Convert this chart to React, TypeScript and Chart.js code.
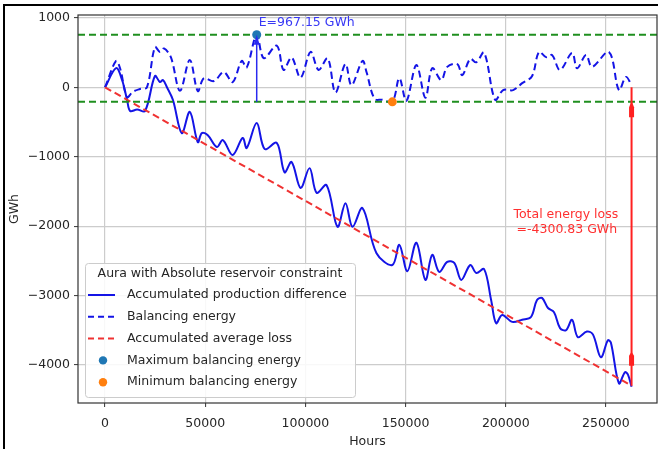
import React, { useEffect, useRef } from "react";
import { Chart, registerables } from "chart.js";

Chart.register(...registerables);

const FONT = '"DejaVu Sans", "Liberation Sans", sans-serif';
const FS = 12.5;

// Axis limits and ticks
const X_MIN = -13500;
const X_MAX = 275500;
const Y_MIN = -4549;
const Y_MAX = 1042;
const xTickValues = [0, 50000, 100000, 150000, 200000, 250000];
const xTickLabels = ["0", "50000", "100000", "150000", "200000", "250000"];
const yTickValues = [1000, 0, -1000, -2000, -3000, -4000];
const yTickLabels = ["1000", "0", "\u22121000", "\u22122000", "\u22123000", "\u22124000"];

// Accumulated production difference (GWh)
const productionHours = [0, 5500, 8500, 11000, 12500, 16000, 20000, 24900, 27400, 28900, 30900, 33900, 38300, 42300, 46300, 48300, 51300, 55800, 58800, 63700, 68700, 70700, 75700, 79700, 85700, 89600, 93100, 97600, 102100, 105600, 110600, 116000, 120000, 123500, 128500, 135500, 143400, 146900, 150900, 155400, 159900, 163300, 166800, 170800, 174300, 177800, 182300, 185300, 189200, 192700, 195200, 198200, 203200, 208200, 212600, 215600, 218100, 221100, 224100, 227100, 230100, 233100, 236000, 240500, 243500, 247500, 251000, 252500, 256500, 259500, 261000, 262800];
const productionGWh = [0, 277, 105, -183, -340, -320, -340, 163, 76, 105, 0, -183, -660, -355, -790, -660, -690, -860, -760, -975, -730, -875, -515, -890, -800, -1225, -1075, -1450, -1165, -1520, -1410, -2010, -1670, -2010, -1740, -2390, -2560, -2270, -2650, -2240, -2775, -2415, -2660, -2515, -2530, -2775, -2560, -2675, -2620, -3065, -3400, -3280, -3380, -3350, -3310, -3065, -3035, -3180, -3240, -3470, -3500, -3350, -3600, -3520, -3560, -3890, -3645, -3680, -4265, -4105, -4140, -4315];

// Balancing energy (GWh)
const balancingHours = [0, 5500, 7500, 11000, 13900, 17400, 20900, 24900, 27400, 29400, 32900, 37400, 42300, 46300, 49300, 54300, 59300, 63700, 68200, 70700, 75700, 79200, 85700, 89100, 93100, 97600, 102600, 106600, 111100, 115000, 120000, 123000, 128500, 130500, 134500, 138400, 143400, 146900, 150400, 155400, 159900, 163300, 167800, 170800, 175800, 178300, 182300, 185300, 189200, 194700, 198700, 203700, 208200, 213100, 216600, 220100, 223100, 227100, 233100, 235600, 240100, 243100, 251500, 256500, 260000, 262800];
const balancingGWh = [0, 380, 275, -140, -65, -25, 0, 580, 510, 560, 430, -50, 395, -55, 130, 90, 220, 75, 380, 285, 758, 420, 600, 250, 430, 140, 510, 250, 420, -75, 335, 30, 380, 220, -165, -180, -209, 130, -195, 320, -150, 275, 105, 295, 335, 175, 410, 360, 500, -180, -40, -40, 60, 160, 510, 435, 465, 250, 495, 275, 465, 295, 510, -40, 150, 30];

// Accumulated average loss (straight line)
const lossHours = [0, 262800];
const lossGWh = [0, -4300.83];

// Extremes
const maxBalancingHour = 75700;
const maxBalancing = 758.0;
const minBalancingHour = 143400;
const minBalancing = -209.15;
const totalLoss = -4300.83;
const endHour = 262800;

const legendTitle = "Aura with Absolute reservoir constraint";
const energyLabel = "E=967.15 GWh";
const lossLabel = ["Total energy loss", "=-4300.83 GWh"];

const zip = (xs: number[], ys: number[]) => xs.map((x, i) => ({ x, y: ys[i] }));

const BLUE = "#1414e6";
const RED = "#f03232";
const GREEN = "#1f8f1f";

const overlay = {
  id: "overlay",
  beforeDraw(chart: any) {
    const ctx = chart.ctx;
    ctx.save();
    ctx.fillStyle = "#ffffff";
    ctx.fillRect(0, 0, chart.width, chart.height);
    ctx.restore();
  },
  afterDatasetsDraw(chart: any) {
    const ctx = chart.ctx;
    const xs = chart.scales.x;
    const ys = chart.scales.y;
    ctx.save();
    // Blue arrow: min -> max balancing energy
    const ax = xs.getPixelForValue(maxBalancingHour);
    const ay0 = ys.getPixelForValue(minBalancing);
    const ay1 = ys.getPixelForValue(maxBalancing);
    ctx.strokeStyle = "#2a2af0";
    ctx.fillStyle = "#2a2af0";
    ctx.lineWidth = 1.5;
    ctx.beginPath();
    ctx.moveTo(ax, ay0);
    ctx.lineTo(ax, ay1 + 6);
    ctx.stroke();
    ctx.beginPath();
    ctx.moveTo(ax, ay1);
    ctx.lineTo(ax - 3, ay1 + 10);
    ctx.lineTo(ax + 3, ay1 + 10);
    ctx.closePath();
    ctx.fill();
    ctx.font = `${FS}px ${FONT}`;
    ctx.textAlign = "left";
    ctx.textBaseline = "middle";
    ctx.fillStyle = "#3838f5";
    ctx.fillText(energyLabel, ax + 2, ay1 - 12);

    // Red arrow: total loss
    const rx = xs.getPixelForValue(endHour);
    const ry0 = ys.getPixelForValue(0);
    const ry1 = ys.getPixelForValue(totalLoss);
    ctx.strokeStyle = "#ff2020";
    ctx.fillStyle = "#ff2020";
    ctx.lineWidth = 2;
    ctx.beginPath();
    ctx.moveTo(rx, ry0);
    ctx.lineTo(rx, ry1);
    ctx.stroke();
    ctx.beginPath();
    ctx.moveTo(rx, ry0 + 14);
    ctx.lineTo(rx + 2.5, ry0 + 20);
    ctx.lineTo(rx + 2.5, ry0 + 30);
    ctx.lineTo(rx - 2.5, ry0 + 30);
    ctx.lineTo(rx - 2.5, ry0 + 20);
    ctx.closePath();
    ctx.fill();
    ctx.beginPath();
    ctx.moveTo(rx, ry1 - 34);
    ctx.lineTo(rx + 2.5, ry1 - 30);
    ctx.lineTo(rx + 2.5, ry1 - 20);
    ctx.lineTo(rx - 2.5, ry1 - 20);
    ctx.lineTo(rx - 2.5, ry1 - 30);
    ctx.closePath();
    ctx.fill();

    ctx.fillStyle = "#ff3030";
    ctx.textAlign = "center";
    const tx = xs.getPixelForValue(230000);
    const ty = ys.getPixelForValue(-1840);
    ctx.fillText(lossLabel[0], tx, ty);
    ctx.fillText(lossLabel[1], tx + 1, ty + 15);
    ctx.restore();
  },
  afterDraw(chart: any) {
    const ctx = chart.ctx;
    const a = chart.chartArea;
    ctx.save();
    // spines
    ctx.strokeStyle = "#333333";
    ctx.lineWidth = 1.2;
    ctx.strokeRect(a.left, a.top, a.right - a.left, a.bottom - a.top);

    // legend
    const lx = 85, ly = 263, lw = 270, lh = 134;
    ctx.fillStyle = "rgba(255,255,255,0.85)";
    ctx.strokeStyle = "#cccccc";
    ctx.lineWidth = 1;
    ctx.beginPath();
    (ctx as any).roundRect(lx + 0.5, ly + 0.5, lw, lh, 3);
    ctx.fill();
    ctx.stroke();
    ctx.font = `${FS}px ${FONT}`;
    ctx.textBaseline = "middle";
    ctx.textAlign = "center";
    ctx.fillStyle = "#262626";
    ctx.fillText(legendTitle, lx + lw / 2, ly + 11);
    const items = chart.data.datasets
      .filter((d: any) => d.legendRank !== undefined)
      .sort((p: any, q: any) => p.legendRank - q.legendRank);
    items.forEach((d: any, i: number) => {
      const y = ly + 32 + i * 21.8;
      if (d.isMarker) {
        ctx.fillStyle = d.pointBackgroundColor;
        ctx.beginPath();
        ctx.arc(lx + 18, y, 4.2, 0, Math.PI * 2);
        ctx.fill();
      } else {
        ctx.strokeStyle = d.borderColor;
        ctx.lineWidth = 2;
        ctx.setLineDash(d.borderDash && d.borderDash.length ? [6, 4] : []);
        ctx.beginPath();
        ctx.moveTo(lx + 3, y);
        ctx.lineTo(lx + 30, y);
        ctx.stroke();
        ctx.setLineDash([]);
      }
      ctx.fillStyle = "#262626";
      ctx.textAlign = "left";
      ctx.fillText(d.label, lx + 42, y);
    });

    // outer frame
    ctx.strokeStyle = "#000000";
    ctx.lineWidth = 2;
    ctx.beginPath();
    ctx.moveTo(4, chart.height);
    ctx.lineTo(4, 5);
    ctx.lineTo(chart.width, 5);
    ctx.stroke();
    ctx.restore();
  },
};

export default function App() {
  const ref = useRef<HTMLCanvasElement>(null);
  useEffect(() => {
    document.body.style.margin = "0";
    const canvas = ref.current!;
    const tickFont = { family: FONT, size: FS };
    const chart = new Chart(canvas, {
      type: "line",
      data: {
        datasets: [
          {
            label: "Maximum balancing energy",
            data: [{ x: maxBalancingHour, y: maxBalancing }],
            showLine: false,
            pointRadius: 4.5,
            pointBackgroundColor: "#1f77b4",
            pointBorderWidth: 0,
            borderColor: "#1f77b4",
            order: 0,
            legendRank: 3,
            isMarker: true,
          } as any,
          {
            label: "Minimum balancing energy",
            data: [{ x: minBalancingHour, y: minBalancing }],
            showLine: false,
            pointRadius: 4.5,
            pointBackgroundColor: "#ff7f0e",
            pointBorderWidth: 0,
            borderColor: "#ff7f0e",
            order: 0,
            legendRank: 4,
            isMarker: true,
          } as any,
          {
            label: "max line",
            data: [{ x: X_MIN, y: maxBalancing }, { x: X_MAX, y: maxBalancing }],
            borderColor: GREEN,
            borderWidth: 2,
            borderDash: [7, 4],
            pointRadius: 0,
            order: 1,
          },
          {
            label: "min line",
            data: [{ x: X_MIN, y: minBalancing }, { x: X_MAX, y: minBalancing }],
            borderColor: GREEN,
            borderWidth: 2,
            borderDash: [7, 4],
            pointRadius: 0,
            order: 1,
          },
          {
            label: "Accumulated average loss",
            data: zip(lossHours, lossGWh),
            borderColor: RED,
            borderWidth: 2,
            borderDash: [7, 4],
            pointRadius: 0,
            order: 2,
            legendRank: 2,
          } as any,
          {
            label: "Balancing energy",
            data: zip(balancingHours, balancingGWh),
            borderColor: BLUE,
            borderWidth: 2,
            borderDash: [7, 4],
            pointRadius: 0,
            tension: 0.35,
            order: 3,
            legendRank: 1,
          } as any,
          {
            label: "Accumulated production difference",
            data: zip(productionHours, productionGWh),
            borderColor: BLUE,
            borderWidth: 2,
            pointRadius: 0,
            tension: 0.35,
            order: 4,
            legendRank: 0,
          } as any,
        ],
      },
      options: {
        animation: false,
        responsive: false,
        devicePixelRatio: 1,
        events: [],
        layout: { autoPadding: false, padding: { top: 15, right: 1, left: 0, bottom: 0 } },
        plugins: { legend: { display: false }, tooltip: { enabled: false } },
        scales: {
          x: {
            type: "linear",
            min: X_MIN,
            max: X_MAX,
            afterFit: (s: any) => {
              s.height = 46;
              s.paddingLeft = 0;
              s.paddingRight = 0;
            },
            afterBuildTicks: (s: any) => {
              s.ticks = xTickValues.map((v) => ({ value: v }));
            },
            ticks: {
              callback: (_v: any, i: number) => xTickLabels[i],
              font: tickFont,
              color: "#262626",
              padding: 9,
              maxRotation: 0,
              autoSkip: false,
            },
            grid: { color: "#cccccc", lineWidth: 1.2, tickLength: 4, tickColor: "#333333", tickWidth: 1 },
            border: { display: false },
            title: { display: true, text: "Hours", font: tickFont, color: "#262626", padding: { top: 0, bottom: 0 } },
          },
          y: {
            type: "linear",
            min: Y_MIN,
            max: Y_MAX,
            afterFit: (s: any) => {
              s.width = 78;
              s.paddingTop = 0;
              s.paddingBottom = 0;
            },
            afterBuildTicks: (s: any) => {
              s.ticks = yTickValues.map((v) => ({ value: v }));
            },
            ticks: {
              callback: (_v: any, i: number) => yTickLabels[i],
              font: tickFont,
              color: "#262626",
              padding: 4,
              autoSkip: false,
            },
            grid: { color: "#cccccc", lineWidth: 1.2, tickLength: 4, tickColor: "#333333", tickWidth: 1 },
            border: { display: false },
            title: { display: true, text: "GWh", font: tickFont, color: "#262626", padding: { top: 7, bottom: 0 } },
          },
        },
      },
      plugins: [overlay],
    } as any);
    return () => chart.destroy();
  }, []);
  return (
    <div style={{ position: "relative", width: 658, height: 449, background: "#fff" }}>
      <canvas ref={ref} width={658} height={449} style={{ display: "block", width: 658, height: 449 }} />
    </div>
  );
}
